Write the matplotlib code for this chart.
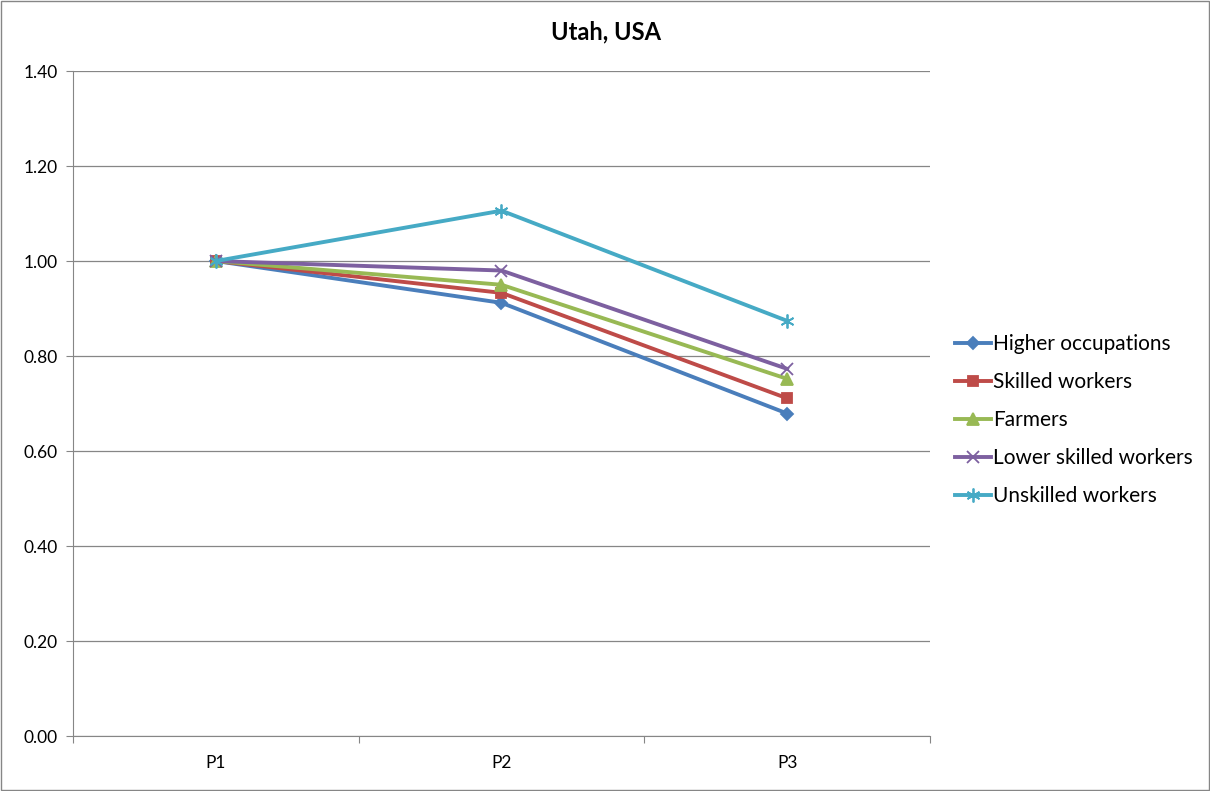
import matplotlib.pyplot as plt
import numpy as np

periods = ['P1', 'P2', 'P3']
series_names = ['Higher occupations', 'Skilled workers', 'Farmers',
                'Lower skilled workers', 'Unskilled workers']
higher = [1.00, 0.912, 0.679]
skilled = [1.00, 0.933, 0.711]
farmers = [1.00, 0.950, 0.752]
lower_skilled = [1.00, 0.980, 0.773]
unskilled = [1.00, 1.106, 0.874]
y_ticks = [0.0, 0.2, 0.4, 0.6, 0.8, 1.0, 1.2, 1.4]

values = [higher, skilled, farmers, lower_skilled, unskilled]
colors = ['#4A7EBB', '#BE4B48', '#98B954', '#7D60A0', '#46AAC5']
markers = ['D', 's', '^', 'x', (6, 2, 0)]
msizes = [6.5, 7.5, 8, 8, 10]

plt.rcParams['font.family'] = ['Lato', 'DejaVu Sans']

fig = plt.figure(figsize=(12.1, 7.91), dpi=100)
ax = fig.add_axes([0.0603, 0.0695, 0.7083, 0.8407])

x = np.arange(1, len(periods) + 1)
for name, v, c, m, ms in zip(series_names, values, colors, markers, msizes):
    ax.plot(x, v, color=c, lw=2.8, marker=m, ms=ms, mew=1.3,
            mfc=c, mec=c, label=name)

ax.set_xlim(0.5, 3.5)
ax.set_ylim(0, 1.4)
ax.set_yticks(y_ticks)
ax.set_yticklabels([f'{t:.2f}' for t in y_ticks], fontsize=12.5)
ax.set_xticks([0.5, 1.5, 2.5, 3.5])
ax.set_xticklabels([])
ax.set_xticks(x, minor=True)
ax.set_xticklabels(periods, minor=True, fontsize=12.5)
ax.tick_params(axis='x', which='minor', length=0, pad=14)
ax.tick_params(axis='x', which='major', length=5, color='#868686', direction='out')
ax.tick_params(axis='y', length=5, color='#868686', direction='out', pad=6)
ax.yaxis.grid(True, color='#868686', lw=0.9)
ax.set_axisbelow(True)
for s in ['top', 'right']:
    ax.spines[s].set_visible(False)
for s in ['left', 'bottom']:
    ax.spines[s].set_color('#868686')

fig.text(0.501, 0.96, 'Utah, USA', ha='center', va='center',
         fontsize=17, fontweight='bold')

ax.legend(loc='center left', bbox_to_anchor=(1.02, 0.475), frameon=False,
          borderaxespad=0, fontsize=15, handlelength=1.7, handletextpad=0.1,
          labelspacing=0.87)

fig.patches.append(plt.Rectangle((0.001, 0.001), 0.998, 0.998,
                                 transform=fig.transFigure, fill=False,
                                 ec='#868686', lw=1))

fig.savefig('out.png', dpi=100)
